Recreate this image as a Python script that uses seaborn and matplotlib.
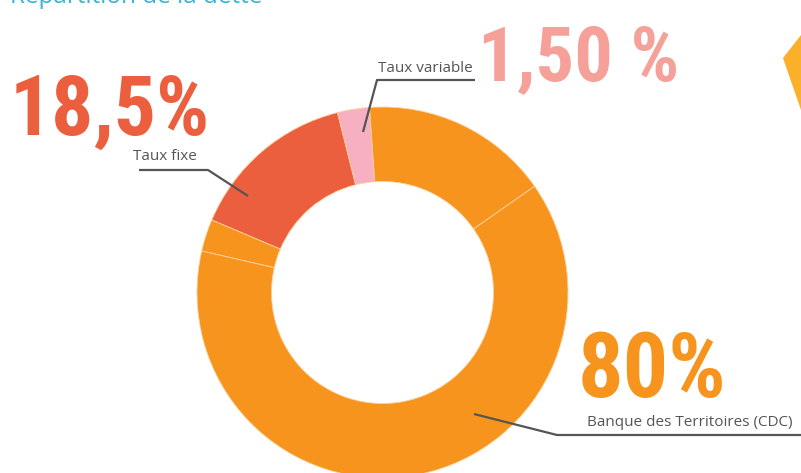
import matplotlib
matplotlib.use("Agg")
import matplotlib.pyplot as plt
import seaborn as sns
from matplotlib.patches import Polygon

sns.set_style("white")

seg_order = ["Taux variable", "Taux fixe", "CDC petit", "Banque des Territoires (CDC)", "CDC haut"]
seg_shares = [2.8, 14.7, 2.8, 63.3, 16.4]
seg_colors = ["#F6B0C2", "#EC5F3E", "#F7941E", "#F7941E", "#F7941E"]

big_labels = ["18,5%", "1,50 %", "80%"]
big_colors = ["#EC5F3E", "#F5A19A", "#F7941E"]
small_labels = ["Taux fixe", "Taux variable", "Banque des Territoires (CDC)"]
title = "Répartition de la dette"

W, H = 801, 473
fig = plt.figure(figsize=(W / 100, H / 100), dpi=100)
ax = fig.add_axes([0, 0, 1, 1])

# image y (down) -> axes y (up)
def Y(y):
    return H - y

ax.pie(seg_shares, colors=seg_colors, startangle=94, counterclock=True,
       center=(382.5, Y(292.5)), radius=185.5,
       wedgeprops=dict(width=74.5, edgecolor="#FBD3A0", linewidth=0.6))

ax.set_xlim(0, W)
ax.set_ylim(0, H)
ax.set_aspect("equal")
ax.axis("off")

big_font = ["Roboto Condensed", "Liberation Sans Narrow", "DejaVu Sans"]

# big percentages
ax.text(10, Y(135), big_labels[0], color=big_colors[0], fontsize=60, fontweight="bold",
        family=big_font, ha="left", va="baseline")
ax.text(478, Y(80), big_labels[1], color=big_colors[1], fontsize=55, fontweight="bold",
        family=big_font, ha="left", va="baseline")
ax.text(578, Y(397), big_labels[2], color=big_colors[2], fontsize=65, fontweight="bold",
        family=big_font, ha="left", va="baseline")

# small labels and leader lines
lab_kw = dict(color="#555555", fontsize=11, family=["Open Sans", "DejaVu Sans"], va="baseline")
ax.text(133, Y(160), small_labels[0], ha="left", **lab_kw)
ax.text(378, Y(72), small_labels[1], ha="left", **lab_kw)
ax.text(587, Y(426), small_labels[2], ha="left", **lab_kw)

line_kw = dict(color="#555555", linewidth=1.6, solid_capstyle="butt")
ax.plot([139, 208, 248], [Y(170), Y(170), Y(196)], **line_kw)
ax.plot([475, 377, 363], [Y(80), Y(80), Y(132)], **line_kw)
ax.plot([474, 557, 801], [Y(414), Y(435), Y(435)], **line_kw)

# title (cut off by the top edge)
ax.text(10, Y(3), title, color="#33B5D6", fontsize=17.5, family=["Open Sans", "DejaVu Sans"],
        ha="left", va="baseline")

# decorative shape at the top right
ax.add_patch(Polygon([(801, Y(35)), (783, Y(58)), (801, Y(110))], closed=True,
                     facecolor="#FBB02A", edgecolor="none"))

fig.savefig("out.png", dpi=100)
